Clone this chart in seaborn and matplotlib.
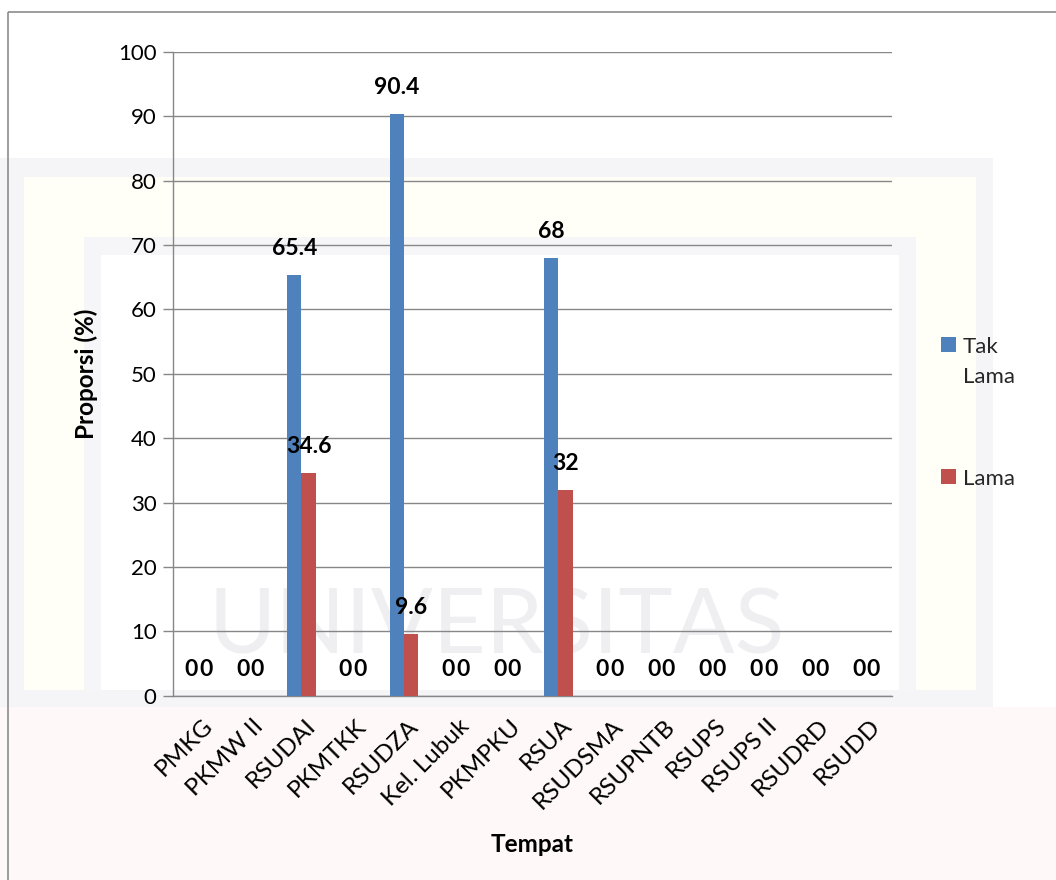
import matplotlib
matplotlib.use("Agg")
import matplotlib.pyplot as plt
import matplotlib.transforms as mtransforms
from matplotlib.patches import Rectangle, Patch
import seaborn as sns
import pandas as pd

# ---- data -------------------------------------------------------------
places = ["PMKG", "PKMW II", "RSUDAI", "PKMTKK", "RSUDZA", "Kel. Lubuk",
          "PKMPKU", "RSUA", "RSUDSMA", "RSUPNTB", "RSUPS", "RSUPS II",
          "RSUDRD", "RSUDD"]
tak_lama = [0, 0, 65.4, 0, 90.4, 0, 0, 68, 0, 0, 0, 0, 0, 0]
lama = [0, 0, 34.6, 0, 9.6, 0, 0, 32, 0, 0, 0, 0, 0, 0]
series = ["Tak Lama", "Lama"]
y_ticks = list(range(0, 101, 10))

BLUE = "#4F81BD"
RED = "#C0504D"
GRID = "#878787"
FS = 16          # y tick and legend text
FS_X = 17.5      # category names
FS_VAL = 16.5    # value labels
FS_TITLE = 17.5  # axis titles

sns.set_theme(style="white")
plt.rcParams["font.family"] = ["Lato", "DejaVu Sans"]

df = pd.DataFrame({
    "Tempat": places * 2,
    "Proporsi": tak_lama + lama,
    "Seri": [series[0]] * len(places) + [series[1]] * len(places),
})

W, H = 1056, 880
fig = plt.figure(figsize=(W / 100, H / 100), dpi=100, facecolor="white")

# ---- faint page background and chart border -----------------------------
bg = fig.add_axes([0, 0, 1, 1], zorder=-5)
bg.set_xlim(0, W)
bg.set_ylim(H, 0)
bg.axis("off")
bg.add_patch(Rectangle((0, 158), 993, 549, color="#f5f5f7", lw=0))
bg.add_patch(Rectangle((24, 177), 952, 513, color="#fffef7", lw=0))
bg.add_patch(Rectangle((84, 237), 832, 453, color="#f6f6f8", lw=0))
bg.add_patch(Rectangle((101, 255), 798, 435, color="white", lw=0))
bg.add_patch(Rectangle((0, 707), W, 173, color="#fef8f8", lw=0))
bg.text(497, 628, "UNIVERSITAS", fontsize=66, color="#efeff2",
        ha="center", va="center", family="Lato")
bg.add_patch(Rectangle((8, 12), 1200, 1000, fill=False, ec="#8c8c8c", lw=1.2))

# ---- bars --------------------------------------------------------------
ax = fig.add_axes([173 / W, 1 - 695.7 / H, 719 / W, 644 / H])
ax.set_facecolor("none")
sns.barplot(data=df, x="Tempat", y="Proporsi", hue="Seri",
            order=places, hue_order=series, palette=[BLUE, RED],
            width=0.56, saturation=1, ax=ax, legend=False,
            edgecolor="none", linewidth=0, zorder=3)

# value labels above each bar
for cont in ax.containers:
    for bar in cont:
        v = bar.get_height()
        ax.annotate(f"{v:g}", (bar.get_x() + bar.get_width() / 2, v),
                    xytext=(0, 18.7), textcoords="offset points",
                    ha="center", va="center", fontsize=FS_VAL,
                    fontweight="bold", color="black", zorder=5)

# ---- axes styling -------------------------------------------------------
ax.set_ylim(0, 100)
ax.set_xlim(-0.5, len(places) - 0.5)
ax.set_yticks(y_ticks)
ax.yaxis.grid(True, color=GRID, lw=1.0)
ax.set_axisbelow(True)
for s in ("top", "right"):
    ax.spines[s].set_visible(False)
for s in ("left", "bottom"):
    ax.spines[s].set_color(GRID)
    ax.spines[s].set_linewidth(1.0)

ax.tick_params(axis="y", direction="out", length=7.2, width=1.0,
               color=GRID, pad=4.5, labelsize=FS, labelcolor="black", left=True)
ax.tick_params(axis="x", length=0, pad=14, labelsize=FS_X, labelcolor="black")

shift = mtransforms.ScaledTranslation(3 / 100, 0, fig.dpi_scale_trans)
for lab in ax.get_xticklabels():
    lab.set_rotation(45)
    lab.set_ha("right")
    lab.set_va("top")
    lab.set_rotation_mode("anchor")
    lab.set_transform(lab.get_transform() + shift)

ax.set_ylabel("Proporsi (%)", fontsize=FS_TITLE, fontweight="bold", color="black")
ax.yaxis.set_label_coords(-0.105, 0.5)
ax.set_xlabel("Tempat", fontsize=FS_TITLE, fontweight="bold", color="black")
ax.xaxis.set_label_coords(0.5, -0.213)

# ---- legend -------------------------------------------------------------
handles = [Patch(color=BLUE, lw=0), Patch(color=RED, lw=0)]
leg = ax.legend(handles, [s.replace(" ", "\n") for s in series],
                loc="upper left", bbox_to_anchor=(941 / W, 1 - 337 / H),
                bbox_transform=fig.transFigure, frameon=False, fontsize=FS,
                handlelength=0.68, handleheight=0.68, handletextpad=0.3,
                labelspacing=3.7, borderpad=0, borderaxespad=0)
for t in leg.get_texts():
    t.set_linespacing(1.6)
# square markers sit level with the first line of each entry
for col in leg._legend_handle_box.get_children():
    for row in col.get_children():
        row.align = "top"

fig.savefig("out.png", dpi=100, facecolor="white")
